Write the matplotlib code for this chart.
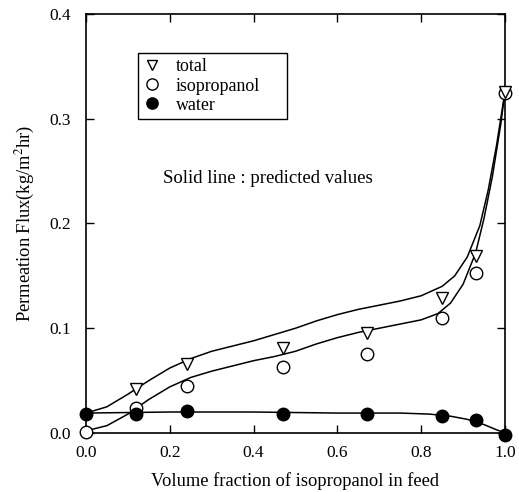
import matplotlib
matplotlib.use("Agg")
import matplotlib.pyplot as plt

plt.rcParams['font.family'] = ['Liberation Serif', 'DejaVu Serif']
plt.rcParams['mathtext.fontset'] = 'stix'

# Measured fluxes (kg/m^2 hr) versus isopropanol volume fraction in feed
x_meas = [0.0, 0.12, 0.24, 0.47, 0.67, 0.85, 0.93, 1.0]
total_meas = [None, 0.042, 0.066, 0.081, 0.095, 0.129, 0.169, 0.326]
iso_meas = [0.001, 0.024, 0.045, 0.063, 0.075, 0.110, 0.153, 0.325]
water_meas = [0.018, 0.018, 0.021, 0.018, 0.018, 0.016, 0.012, -0.002]

# Predicted curves
x_total_pred = [0.0, 0.05, 0.10, 0.15, 0.20, 0.25, 0.30, 0.35, 0.40, 0.45, 0.50,
                0.55, 0.60, 0.65, 0.70, 0.75, 0.80, 0.85, 0.88, 0.91, 0.94,
                0.96, 0.98, 1.00]
total_pred = [0.019, 0.025, 0.037, 0.050, 0.062, 0.071, 0.078, 0.083, 0.088, 0.094,
              0.100, 0.107, 0.113, 0.118, 0.122, 0.126, 0.131, 0.140, 0.150, 0.168,
              0.198, 0.232, 0.275, 0.326]

x_iso_pred = [0.0, 0.05, 0.10, 0.15, 0.20, 0.25, 0.30, 0.35, 0.40, 0.45, 0.50,
              0.55, 0.60, 0.65, 0.70, 0.75, 0.80, 0.84, 0.87, 0.90, 0.93,
              0.95, 0.97, 0.99, 1.00]
iso_pred = [0.002, 0.007, 0.018, 0.032, 0.044, 0.053, 0.059, 0.064, 0.069, 0.073,
            0.078, 0.085, 0.091, 0.096, 0.100, 0.104, 0.108, 0.114, 0.124, 0.142,
            0.172, 0.205, 0.245, 0.295, 0.326]

x_water_pred = [0.0, 0.2, 0.4, 0.6, 0.75, 0.82, 0.87, 0.91, 0.95, 0.98, 1.0]
water_pred = [0.019, 0.020, 0.020, 0.019, 0.019, 0.018, 0.016, 0.013, 0.008, 0.003, 0.0]

x_ticks = [0.0, 0.2, 0.4, 0.6, 0.8, 1.0]
y_ticks = [0.0, 0.1, 0.2, 0.3, 0.4]

fig = plt.figure(figsize=(5.19, 4.92), dpi=100)
ax = fig.add_axes([0.1657, 0.12, 0.8073, 0.8515])

lw = 1.1
ax.plot(x_total_pred, total_pred, color='black', lw=lw)
ax.plot(x_iso_pred, iso_pred, color='black', lw=lw)
ax.plot(x_water_pred, water_pred, color='black', lw=lw)

tx = [x for x, y in zip(x_meas, total_meas) if y is not None]
ty = [y for y in total_meas if y is not None]
h_total, = ax.plot(tx, ty, linestyle='none', marker='v', ms=8, mfc='white',
                   mec='black', mew=1.0, clip_on=False, zorder=4)
h_iso, = ax.plot(x_meas, iso_meas, linestyle='none', marker='o', ms=9, mfc='white',
                 mec='black', mew=1.0, clip_on=False, zorder=3)
h_water, = ax.plot(x_meas, water_meas, linestyle='none', marker='o', ms=9, mfc='black',
                   mec='black', clip_on=False, zorder=5)

ax.set_xlim(0.0, 1.0)
ax.set_ylim(0.0, 0.4)
ax.set_xticks(x_ticks)
ax.set_yticks(y_ticks)
ax.set_xticklabels([f"{v:.1f}" for v in x_ticks])
ax.set_yticklabels([f"{v:.1f}" for v in y_ticks])
ax.tick_params(direction='in', length=6, width=1.0, top=True, right=True,
               labelsize=12.5, pad=9)
ax.tick_params(axis='y', pad=11)
for s in ax.spines.values():
    s.set_linewidth(1.2)

ax.set_xlabel("Volume fraction of isopropanol in feed", fontsize=13.3, labelpad=8)
ax.set_ylabel("Permeation Flux(kg/m$^{2}$hr)", fontsize=13.3, labelpad=9)

ax.text(0.184, 0.243, "Solid line : predicted values", fontsize=13.5,
        va='center', ha='left')

leg = ax.legend([h_total, h_iso, h_water], ["total", "isopropanol", "water"],
                loc='upper left', bbox_to_anchor=(0.124, 0.75, 0.356, 0.157),
                mode='expand', borderaxespad=0, fontsize=12.9,
                frameon=True, fancybox=False, edgecolor='black', framealpha=1,
                handletextpad=0.8, handlelength=1.0, borderpad=0.3, labelspacing=0.12,
                markerscale=0.9)
leg.get_frame().set_linewidth(1.0)

fig.savefig("out.png", dpi=100)
